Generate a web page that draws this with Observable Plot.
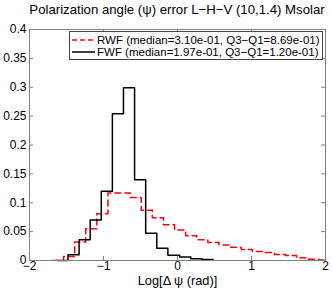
<!DOCTYPE html>
<html><head><meta charset="utf-8">
<script src="https://cdn.jsdelivr.net/npm/d3@7"></script>
<script src="https://cdn.jsdelivr.net/npm/@observablehq/plot@0.6"></script>
<style>
body{margin:0;background:#fff;}
#wrap{position:relative;width:332px;height:292px;font-family:"Liberation Sans",Arial,sans-serif;color:#000;}
#title{position:absolute;left:19px;width:316px;top:2px;text-align:center;font-size:13.2px;white-space:nowrap;}
#legend{position:absolute;left:69px;top:31px;width:254px;height:29px;box-sizing:border-box;border:1px solid #444;background:#fff;font-size:11.5px;padding-top:2px;}
.row{display:flex;align-items:center;height:12px;white-space:nowrap;}
.row svg{flex:none;margin-left:1px;margin-right:2px;}
</style></head><body>
<div id="wrap">
  <div id="chart"></div>
  <div id="title"></div>
  <div id="legend"></div>
</div>
<script>
const title = "Polarization angle (ψ) error L−H−V (10,1.4) Msolar";
const xLabel = "Log[Δ ψ (rad)]";
const xTicks = [-2, -1, 0, 1, 2];
const yTicks = [0, 0.05, 0.1, 0.15, 0.2, 0.25, 0.3, 0.35, 0.4];
const seriesNames = ["RWF (median=3.10e-01, Q3−Q1=8.69e-01)", "FWF (median=1.97e-01, Q3−Q1=1.20e-01)"];

// RWF histogram: bin left edges, fractions, final right edge
const rwfEdges = [-1.69, -1.54, -1.39, -1.24, -1.09, -0.94, -0.79, -0.64, -0.49, -0.34, -0.19, -0.04, 0.11, 0.26, 0.41, 0.56, 0.71, 0.86, 1.01, 1.16, 1.31, 1.46, 1.61, 1.76, 1.91];
const rwfValues = [0, 0.007, 0.032, 0.055, 0.081, 0.117, 0.117, 0.109, 0.087, 0.074, 0.062, 0.053, 0.043, 0.036, 0.031, 0.027, 0.023, 0.019, 0.0156, 0.014, 0.0104, 0.0087, 0.0046, 0.002, 0.001];
const rwfEnd = 2.06;

// FWF histogram
const fwfEdges = [-1.63, -1.48, -1.33, -1.18, -1.03, -0.88, -0.73, -0.58, -0.43, -0.28, -0.13, 0.03, 0.18, 0.33];
const fwfValues = [0, 0.010, 0.036, 0.070, 0.120, 0.254, 0.299, 0.140, 0.047, 0.021, 0.009, 0.006, 0.003, 0.0017];
const fwfEnd = 0.48;

function stairs(edges, values, end) {
  const pts = edges.map((e, i) => ({x: e, y: values[i]}));
  pts.push({x: end, y: values[values.length - 1]});
  return pts;
}
const rwf = stairs(rwfEdges, rwfValues, rwfEnd);
const fwf = stairs(fwfEdges, fwfValues, fwfEnd);

const axisGray = "#808080";
const fmtX = d => d < 0 ? "−" + (-d) : String(d);
const fmtY = d => String(+d.toFixed(2));

const chart = Plot.plot({
  width: 332, height: 292,
  marginLeft: 29, marginRight: 7, marginTop: 29, marginBottom: 32,
  style: {fontFamily: '"Liberation Sans", Arial, sans-serif', fontSize: "12px", background: "#fff", color: "#000", overflow: "visible"},
  x: {domain: [-2, 2]},
  y: {domain: [0, 0.4]},
  marks: [
    Plot.line(rwf, {x: "x", y: "y", curve: "step-after", stroke: "#ff0000", strokeWidth: 1.5, strokeDasharray: "6,4", clip: true}),
    Plot.line(fwf, {x: "x", y: "y", curve: "step-after", stroke: "#000", strokeWidth: 1.5}),
    Plot.frame({stroke: axisGray}),
    Plot.ruleX(xTicks, {x: d => d, y1: 0, y2: 0, insetTop: -4, stroke: axisGray}),
    Plot.ruleX(xTicks, {x: d => d, y1: 0.4, y2: 0.4, insetBottom: -4, stroke: axisGray}),
    Plot.ruleY(yTicks, {y: d => d, x1: -2, x2: -2, insetRight: -4, stroke: axisGray}),
    Plot.ruleY(yTicks, {y: d => d, x1: 2, x2: 2, insetLeft: -4, stroke: axisGray}),
    Plot.axisX(xTicks, {tickSize: 0, tickPadding: 1, tickFormat: fmtX, label: null, fontSize: 12}),
    Plot.axisY(yTicks, {tickSize: 0, tickPadding: 3, tickFormat: fmtY, label: null, fontSize: 12}),
    Plot.text([xLabel], {text: d => d, frameAnchor: "bottom", dy: 24.8, fontSize: 12.8})
  ]
});
document.getElementById("chart").appendChild(chart);
document.getElementById("title").textContent = title;

const legend = document.getElementById("legend");
const styles = [{stroke: "#ff0000", dash: "5,3"}, {stroke: "#000", dash: null}];
seriesNames.forEach((name, i) => {
  const row = document.createElement("div");
  row.className = "row";
  const s = styles[i];
  row.innerHTML = `<svg width="24" height="12"><line x1="1" x2="24" y1="6" y2="6" stroke="${s.stroke}" stroke-width="1.5" ${s.dash ? `stroke-dasharray="${s.dash}"` : ""}/></svg><span></span>`;
  row.querySelector("span").textContent = name;
  legend.appendChild(row);
});
</script>
</body></html>
